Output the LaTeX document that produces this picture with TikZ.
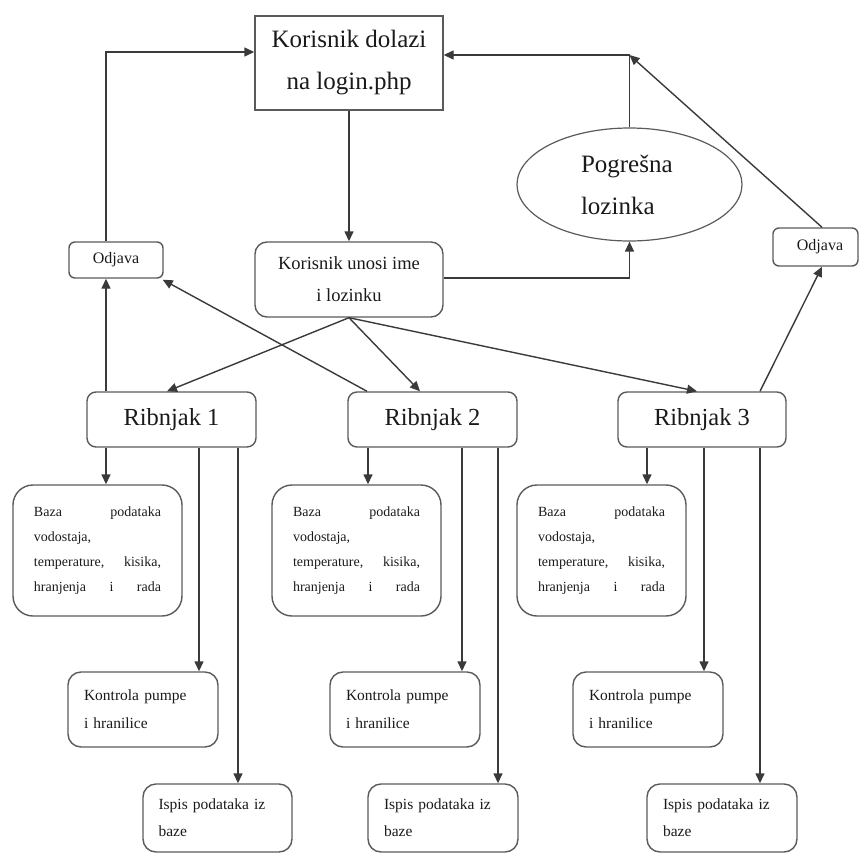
\documentclass[tikz,border=0pt]{standalone}
\usepackage{fontspec}
\setmainfont{Liberation Serif}
\usetikzlibrary{arrows.meta,shapes.geometric}
\definecolor{ln}{HTML}{3A3A3A}
\definecolor{bd}{HTML}{5A5A5A}
\definecolor{tx}{HTML}{1A1A1A}
\tikzset{
  box/.style={draw=bd, line width=1.4pt, inner sep=0pt, text=tx, align=center},
  rbox/.style={box, rounded corners=#1},
  arr/.style={draw=ln, line width=1.4pt, -{Triangle[length=10pt,width=9pt]}},
  ln/.style={draw=ln, line width=1.4pt},
  bigf/.style={font=\fontsize{25}{42}\selectfont},
  ribf/.style={font=\fontsize{24.5}{30}\selectfont},
  odjf/.style={font=\fontsize{16}{20}\selectfont},
  unof/.style={font=\fontsize{18.5}{32}\selectfont},
  bazf/.style={font=\fontsize{14}{24.8}\selectfont, text width=127pt, align=left},
  konf/.style={font=\fontsize{15.5}{28}\selectfont, text width=118pt, align=left},
  ispf/.style={font=\fontsize{15.5}{27}\selectfont, text width=118pt, align=left},
}
\begin{document}
\begin{tikzpicture}[x=1pt,y=-1pt]
\useasboundingbox (0,0) rectangle (860,854);
% top nodes
\node[box, bigf, minimum width=188pt, minimum height=94pt] (top) at (349,63) {Korisnik dolazi\\na login.php};
\node[rbox=6pt, odjf, minimum width=94pt, minimum height=36pt] (odjL) at (116,260) {Odjava};
\node[rbox=12pt, unof, minimum width=188pt, minimum height=75pt] (unosi) at (349,279.5) {Korisnik unosi ime\\i lozinku};
\node[ellipse, draw=bd, line width=1.2pt, inner sep=0pt, minimum width=225pt, minimum height=113pt, text=tx] (ell) at (629.5,184.5) {};
\node[bigf, text=tx, text width=97pt, align=left] (elltxt) at (ell.center) {Pogrešna\\lozinka};
\node[rbox=6pt, odjf, minimum width=85pt, minimum height=38pt] (odjR) at (815.5,247) {\hspace*{9pt}Odjava};
\coordinate (jn) at (629.5,55);
% Ribnjaci
\node[rbox=9pt, ribf, minimum width=169pt, minimum height=55pt] (R1) at (171.5,419.5) {Ribnjak 1};
\node[rbox=9pt, ribf, minimum width=169pt, minimum height=55pt] (R2) at (432.5,419.5) {Ribnjak 2};
\node[rbox=9pt, ribf, minimum width=168pt, minimum height=55pt] (R3) at (702,419.5) {Ribnjak 3};
% Baza
\node[rbox=20pt, bazf, minimum width=169pt, minimum height=131pt] (B1) at (97.5,550.5) {Baza\hfill podataka\\vodostaja,\\temperature,\hfill kisika,\\hranjenja\hfill i\hfill rada\\[-8pt]};
\node[rbox=20pt, bazf, minimum width=169pt, minimum height=131pt] (B2) at (356.5,550.5) {Baza\hfill podataka\\vodostaja,\\temperature,\hfill kisika,\\hranjenja\hfill i\hfill rada\\[-8pt]};
\node[rbox=20pt, bazf, minimum width=169pt, minimum height=131pt] (B3) at (601.5,550.5) {Baza\hfill podataka\\vodostaja,\\temperature,\hfill kisika,\\hranjenja\hfill i\hfill rada\\[-8pt]};
% Kontrola
\node[rbox=13pt, konf, minimum width=150pt, minimum height=75pt] (K1) at (143,709.5) {Kontrola pumpe\\i hranilice};
\node[rbox=13pt, konf, minimum width=150pt, minimum height=75pt] (K2) at (405,709.5) {Kontrola pumpe\\i hranilice};
\node[rbox=13pt, konf, minimum width=150pt, minimum height=75pt] (K3) at (648,709.5) {Kontrola pumpe\\i hranilice};
% Ispis
\node[rbox=13pt, ispf, minimum width=149pt, minimum height=68pt] (I1) at (217.5,818) {Ispis podataka iz\\baze};
\node[rbox=13pt, ispf, minimum width=150pt, minimum height=68pt] (I2) at (443,818) {Ispis podataka iz\\baze};
\node[rbox=13pt, ispf, minimum width=150pt, minimum height=68pt] (I3) at (722,818) {Ispis podataka iz\\baze};
% connectors top
\draw[arr] ([xshift=-10pt]odjL.north) |- ([yshift=11pt]top.west);
\draw[arr] (top.south) -- (unosi.north);
\draw[ln] (ell.north) -- (jn);
\draw[arr] (jn) -- ([yshift=8pt]top.east);
\draw[arr] ([xshift=6.5pt]odjR.north) -- (jn);
\draw[arr] ([yshift=1.5pt]unosi.east) -| (ell.south);
% unosi to ribnjaci
\draw[arr] (unosi.south) -- ([xshift=-4.5pt]R1.north);
\draw[arr] (unosi.south) -- ([xshift=-12.5pt]R2.north);
\draw[arr] (unosi.south) -- ([xshift=-5pt]R3.north);
% ribnjaci to odjava
\draw[arr] ([xshift=-65.5pt]R1.north) -- ([xshift=-10pt]odjL.south);
\draw[arr] ([xshift=-65.5pt]R2.north) -- ([xshift=-1pt,yshift=-1pt]odjL.south east);
\draw[arr] ([xshift=58pt]R3.north) -- ([xshift=6.5pt]odjR.south);
% ribnjak 1 down
\draw[arr] ([xshift=-65.5pt]R1.south) -- ([xshift=8.5pt]B1.north);
\draw[arr] ([xshift=27.5pt]R1.south) -- ([xshift=56pt]K1.north);
\draw[arr] ([xshift=66.5pt]R1.south) -- ([xshift=20.5pt]I1.north);
% ribnjak 2 down
\draw[arr] ([xshift=-64.5pt]R2.south) -- ([xshift=11.5pt]B2.north);
\draw[arr] ([xshift=29.5pt]R2.south) -- ([xshift=57pt]K2.north);
\draw[arr] ([xshift=65.5pt]R2.south) -- ([xshift=55pt]I2.north);
% ribnjak 3 down
\draw[arr] ([xshift=-55pt]R3.south) -- ([xshift=45.5pt]B3.north);
\draw[arr] ([xshift=2pt]R3.south) -- ([xshift=56pt]K3.north);
\draw[arr] ([xshift=58pt]R3.south) -- ([xshift=38pt]I3.north);
\end{tikzpicture}
\end{document}
